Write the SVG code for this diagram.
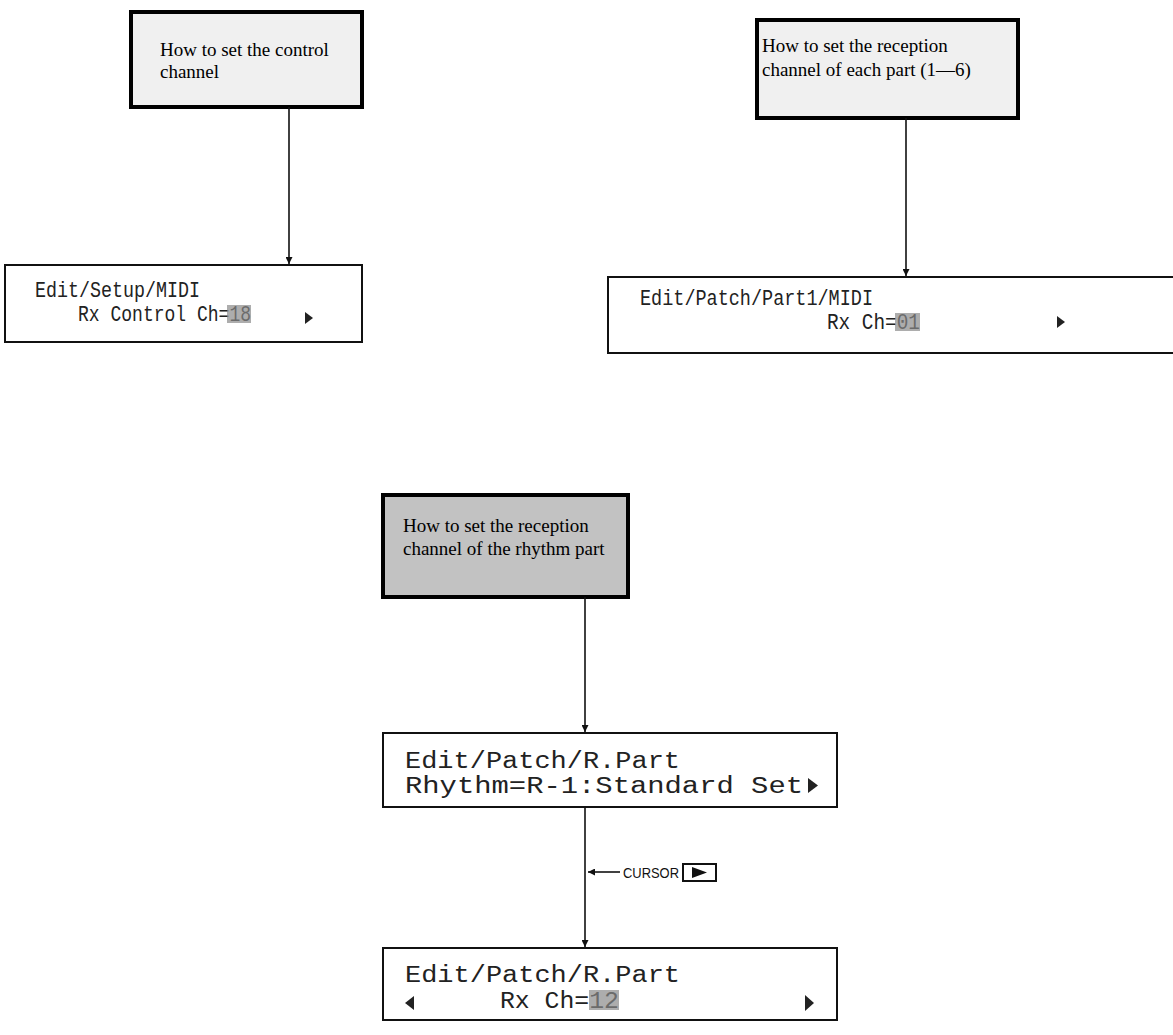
<svg xmlns="http://www.w3.org/2000/svg" width="1173" height="1035" viewBox="0 0 1173 1035">
<style>
.title{stroke:#000;stroke-width:4}
.tt{font-family:"Liberation Serif",serif;font-size:19px;fill:#000}
.lcd{fill:#fff;stroke:#111;stroke-width:2}
.lt{font-family:"Liberation Mono","DejaVu Sans Mono",monospace;fill:#222}
.hl{fill:#8a8a8a;fill-opacity:0.7}
.conn{stroke:#111;stroke-width:1.6;fill:none}
.tri{fill:#222}
</style>
<defs>
<marker id="arr" viewBox="0 0 10 10" refX="10" refY="5" markerWidth="7" markerHeight="7" markerUnits="userSpaceOnUse" orient="auto"><path d="M0,0 L10,5 L0,10 z" fill="#111"/></marker>
</defs>
<rect width="1173" height="1035" fill="#fff"/>

<g id="title-control">
<rect class="title" x="131" y="12" width="231" height="95" fill="#f0f0f0"/>
<text class="tt" x="160" y="56">How to set the control</text>
<text class="tt" x="160" y="78">channel</text>
</g>

<g id="lcd-setup">
<rect class="lcd" x="5" y="265" width="357" height="77"/>
<text class="lt" x="35" y="297" font-size="22" textLength="165" lengthAdjust="spacingAndGlyphs">Edit/Setup/MIDI</text>
<text class="lt" x="78" y="321" font-size="22" textLength="173" lengthAdjust="spacingAndGlyphs">Rx Control Ch=18</text>
<rect class="hl" x="227" y="305" width="24" height="18"/>
<path class="tri" d="M305,312 L313,318 L305,324 z"/>
</g>

<g id="title-part">
<rect class="title" x="757" y="20" width="261" height="98" fill="#f0f0f0"/>
<text class="tt" x="762" y="52">How to set the reception</text>
<text class="tt" x="762" y="76">channel of each part (1—6)</text>
</g>

<g id="lcd-part">
<rect class="lcd" x="608" y="277" width="580" height="76"/>
<text class="lt" x="640" y="305" font-size="22" textLength="233" lengthAdjust="spacingAndGlyphs">Edit/Patch/Part1/MIDI</text>
<text class="lt" x="827" y="329" font-size="22" textLength="93" lengthAdjust="spacingAndGlyphs">Rx Ch=01</text>
<rect class="hl" x="895" y="313" width="25" height="18"/>
<path class="tri" d="M1057,316 L1065,322 L1057,328 z"/>
</g>

<g id="title-rhythm">
<rect class="title" x="383" y="495" width="245" height="102" fill="#c2c2c2"/>
<text class="tt" x="403" y="532">How to set the reception</text>
<text class="tt" x="403" y="555">channel of the rhythm part</text>
</g>

<g id="lcd-rhythm">
<rect class="lcd" x="383" y="733" width="454" height="74"/>
<text class="lt" x="405" y="768" font-size="23" textLength="275" lengthAdjust="spacingAndGlyphs">Edit/Patch/R.Part</text>
<text class="lt" x="405" y="793" font-size="23" textLength="398" lengthAdjust="spacingAndGlyphs">Rhythm=R-1:Standard Set</text>
<path class="tri" d="M808,778 L818,785.5 L808,793 z"/>
</g>

<g id="lcd-rxch">
<rect class="lcd" x="383" y="948" width="454" height="72"/>
<text class="lt" x="405" y="982" font-size="23" textLength="275" lengthAdjust="spacingAndGlyphs">Edit/Patch/R.Part</text>
<path class="tri" d="M414,996 L405,1003 L414,1010 z"/>
<text class="lt" x="500" y="1008" font-size="23" textLength="119" lengthAdjust="spacingAndGlyphs">Rx Ch=12</text>
<rect class="hl" x="589" y="990" width="30" height="20"/>
<path class="tri" d="M805,995 L814,1003 L805,1011 z"/>
</g>

<g id="cursor-label">
<line class="conn" x1="620" y1="872" x2="588" y2="872" marker-end="url(#arr)"/>
<text x="623" y="878" font-family="Liberation Sans,Arial,sans-serif" font-size="15" fill="#111" textLength="56" lengthAdjust="spacingAndGlyphs">CURSOR</text>
<rect x="683" y="864" width="33" height="17" fill="#fff" stroke="#111" stroke-width="2"/>
<path d="M692,867 L707,872.5 L692,878 z" fill="#111"/>
</g>

<g id="connectors">
<line class="conn" x1="289" y1="107" x2="289" y2="264" marker-end="url(#arr)"/>
<line class="conn" x1="906" y1="118" x2="906" y2="276" marker-end="url(#arr)"/>
<line class="conn" x1="585" y1="597" x2="585" y2="732" marker-end="url(#arr)"/>
<line class="conn" x1="585" y1="807" x2="585" y2="947" marker-end="url(#arr)"/>
</g>
</svg>
